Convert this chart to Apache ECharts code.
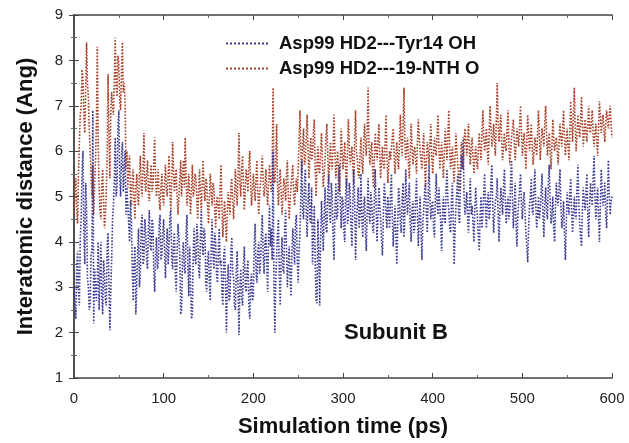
<!DOCTYPE html>
<html>
<head>
<meta charset="utf-8">
<script src="https://cdn.jsdelivr.net/npm/echarts@6/dist/echarts.min.js"></script>
<style>
  html, body { margin: 0; padding: 0; background: #fff; }
  #main { width: 629px; height: 443px; }
</style>
</head>
<body>
<div id="main"></div>
<script>
// sampling step of the trajectories (ps)
var timeStep = 1

var seriesNames = ['Asp99 HD2---Tyr14 OH', 'Asp99 HD2---19-NTH O']

// Asp99 HD2 --- Tyr14 OH (Ang), one value per ps, 10 per row
var tyrOH = [
  3.0, 2.6, 2.3, 3.4, 3.8, 2.9, 2.6, 4.1, 4.5, 5.6,
  6.0, 4.2, 3.5, 5.3, 4.8, 3.2, 3.0, 2.5, 2.6, 3.7,
  3.8, 6.9, 2.2, 3.4, 3.0, 2.7, 3.2, 4.0, 2.5, 3.3,
  4.0, 2.8, 2.4, 3.6, 3.3, 2.7, 2.6, 3.9, 4.2, 3.1,
  2.05, 2.9, 3.6, 4.5, 4.8, 5.4, 6.3, 5.0, 5.2, 6.5,
  6.9, 5.4, 5.0, 5.9, 6.2, 5.1, 5.6, 6.0, 4.6, 5.2,
  4.8, 4.4, 4.0, 4.9, 4.5, 3.4, 2.7, 3.6, 3.9, 2.4,
  2.4, 3.8, 4.3, 3.0, 3.3, 4.4, 4.6, 3.5, 3.6, 4.5,
  4.2, 3.6, 3.4, 4.3, 4.7, 3.9, 3.8, 4.5, 4.4, 3.3,
  2.9, 3.7, 4.1, 3.4, 3.5, 4.4, 4.6, 3.6, 3.7, 4.2,
  4.5, 3.8, 3.2, 3.9, 4.3, 3.5, 3.9, 4.6, 4.7, 3.6,
  3.4, 4.0, 4.2, 3.3, 2.9, 3.8, 4.4, 4.1, 3.7, 2.4,
  2.5, 3.7, 4.0, 3.4, 3.3, 4.2, 4.6, 3.5, 2.8, 3.9,
  3.9, 2.3, 2.4, 3.8, 4.3, 3.6, 3.5, 4.4, 4.1, 3.4,
  3.2, 4.1, 4.7, 3.9, 3.7, 4.3, 4.2, 3.1, 2.9, 3.6,
  3.8, 3.1, 2.7, 3.9, 4.5, 3.7, 3.4, 4.2, 4.0, 3.3,
  3.1, 3.8, 4.3, 3.5, 3.6, 2.9, 2.6, 3.7, 3.9, 3.0,
  2.0, 3.1, 3.5, 2.7, 2.8, 3.8, 4.1, 3.3, 3.2, 2.6,
  2.5, 3.4, 3.8, 2.9, 1.95, 3.0, 3.4, 2.8, 2.6, 3.5,
  3.9, 3.0, 2.9, 3.4, 3.6, 2.6, 2.3, 3.1, 3.3, 2.7,
  2.8, 3.9, 4.4, 3.4, 3.1, 3.8, 4.0, 3.3, 3.5, 4.2,
  4.6, 3.7, 3.3, 4.0, 4.2, 3.5, 2.9, 4.1, 4.8, 3.9,
  4.3, 3.6, 6.0, 3.1, 2.0, 3.2, 3.7, 4.2, 4.5, 3.3,
  2.6, 3.6, 4.1, 3.4, 3.3, 4.3, 4.7, 3.8, 3.0, 3.5,
  3.9, 3.2, 2.8, 3.7, 4.3, 3.9, 3.5, 4.4, 4.6, 3.6,
  3.1, 3.8, 4.2, 5.0, 5.8, 4.7, 4.5, 5.3, 5.6, 4.6,
  4.1, 4.9, 5.3, 4.5, 4.4, 5.2, 3.5, 4.1, 4.8, 3.6,
  2.7, 2.65, 4.5, 3.7, 2.6, 4.0, 4.9, 4.4, 3.8, 4.6,
  5.2, 4.3, 4.2, 5.1, 5.5, 4.6, 4.4, 5.3, 5.0, 4.1,
  3.6, 4.7, 5.3, 4.5, 4.6, 5.5, 5.7, 4.8, 4.3, 5.0,
  4.9, 4.2, 4.0, 5.1, 5.4, 4.4, 4.5, 5.3, 5.1, 4.3,
  3.9, 4.8, 5.6, 4.9, 3.6, 4.4, 4.8, 5.2, 4.3, 4.6,
  5.5, 4.5, 4.1, 4.8, 5.0, 4.2, 3.8, 4.7, 5.4, 4.6,
  4.4, 5.1, 4.9, 4.3, 4.2, 5.0, 5.6, 4.7, 4.0, 4.6,
  5.2, 4.8, 4.5, 4.0, 3.7, 4.6, 5.3, 5.0, 4.6, 4.3,
  5.0, 4.6, 4.3, 5.1, 5.5, 4.5, 3.9, 4.4, 4.8, 4.1,
  3.5, 4.4, 5.2, 4.9, 4.4, 4.2, 5.0, 5.3, 4.1, 4.6,
  5.6, 4.9, 4.6, 5.0, 5.3, 4.4, 4.0, 4.7, 4.9, 4.2,
  4.3, 5.0, 5.4, 4.6, 3.9, 4.5, 5.0, 4.3, 3.6, 4.4,
  4.7, 5.1, 5.3, 4.6, 4.2, 5.0, 5.7, 4.9, 4.5, 4.8,
  4.9, 4.3, 4.1, 5.0, 5.5, 4.8, 4.6, 5.2, 5.2, 4.4,
  3.8, 4.6, 5.0, 4.5, 4.4, 5.2, 5.6, 4.9, 4.7, 4.3,
  4.2, 4.9, 5.3, 4.4, 3.5, 4.3, 4.8, 5.1, 5.5, 4.6,
  4.4, 5.3, 5.9, 5.6, 6.3, 5.0, 4.6, 4.8, 5.1, 4.5,
  4.2, 4.9, 5.4, 4.6, 4.8, 4.4, 4.0, 4.7, 5.2, 4.8,
  4.5, 4.1, 3.8, 4.6, 5.0, 4.3, 4.6, 5.1, 5.5, 4.7,
  4.3, 4.9, 5.1, 4.5, 4.7, 5.3, 5.7, 4.8, 4.2, 4.6,
  4.9, 5.0, 5.4, 4.6, 4.0, 4.7, 5.2, 4.9, 4.6, 5.2,
  5.6, 4.9, 4.4, 4.8, 5.0, 4.5, 4.7, 5.4, 5.8, 4.9,
  4.3, 4.8, 5.3, 4.4, 3.9, 4.6, 4.9, 5.2, 5.5, 4.8,
  4.5, 4.9, 5.1, 4.6, 4.2, 3.9, 3.55, 4.3, 4.8, 5.0,
  5.4, 4.7, 4.6, 5.2, 5.6, 4.8, 4.3, 4.6, 5.0, 4.5,
  4.7, 5.1, 5.5, 4.6, 4.1, 4.8, 5.2, 4.7, 4.5, 5.3,
  5.7, 4.9, 4.4, 4.6, 5.0, 4.3, 4.0, 4.8, 5.3, 4.9,
  4.8, 5.2, 5.6, 4.8, 4.3, 4.5, 4.9, 4.2, 3.6, 4.4,
  5.1, 4.8, 4.6, 5.1, 5.4, 4.7, 4.2, 4.6, 5.0, 4.6,
  4.5, 5.2, 5.7, 4.9, 4.4, 4.1, 3.9, 4.7, 5.2, 4.9,
  4.7, 5.1, 5.5, 4.6, 4.1, 4.8, 5.3, 5.0, 4.8, 5.4,
  5.9, 5.0, 4.5, 4.9, 5.2, 4.5, 4.0, 4.8, 5.6, 5.1,
  4.8, 5.0, 5.3, 4.6, 4.3, 5.1, 5.8, 5.0, 4.6, 4.9,
  5.0
]

// Asp99 HD2 --- 19-NTH O (Ang), one value per ps, 10 per row
var nthO = [
  4.6, 5.2, 5.4, 4.7, 4.4, 5.5, 6.2, 6.8, 7.0, 7.8,
  7.6, 6.8, 6.4, 7.3, 8.4, 7.5, 7.2, 6.5, 6.0, 5.5,
  5.0, 5.7, 4.6, 5.3, 5.8, 6.6, 8.3, 6.2, 5.2, 4.7,
  4.5, 5.3, 5.6, 4.9, 4.3, 4.6, 5.1, 5.9, 7.7, 6.3,
  5.4, 6.8, 7.3, 7.0, 6.8, 7.6, 8.5, 7.4, 7.2, 8.1,
  7.9, 7.1, 6.9, 7.8, 8.4, 7.3, 7.5, 7.0, 5.6, 6.0,
  5.2, 5.7, 5.9, 5.0, 4.8, 5.4, 5.6, 4.9, 4.5, 5.2,
  5.5, 5.0, 4.8, 5.5, 5.9, 5.2, 5.0, 5.6, 6.4, 5.3,
  5.1, 5.5, 5.8, 5.0, 4.9, 5.4, 5.7, 5.1, 5.2, 5.8,
  6.3, 5.4, 5.0, 5.3, 5.6, 4.9, 4.7, 5.2, 5.5, 5.0,
  4.8, 5.3, 5.7, 5.2, 5.0, 5.5, 5.9, 5.1, 4.7, 5.3,
  6.2, 5.6, 5.1, 5.4, 5.6, 5.0, 4.6, 5.0, 5.4, 5.8,
  5.0, 5.5, 5.8, 5.2, 6.3, 5.4, 4.8, 5.1, 5.5, 5.0,
  4.6, 5.2, 5.7, 5.0, 5.1, 5.5, 5.4, 4.9, 4.5, 5.1,
  5.6, 5.0, 4.7, 5.3, 5.8, 5.2, 4.9, 5.4, 5.3, 4.8,
  4.4, 5.0, 5.5, 5.1, 4.8, 5.3, 5.2, 4.7, 4.3, 4.9,
  5.0, 4.7, 4.5, 5.2, 5.7, 4.8, 4.1, 4.6, 4.9, 4.4,
  4.0, 4.7, 5.1, 4.8, 4.6, 5.2, 5.4, 4.9, 4.5, 5.0,
  5.6, 5.1, 4.8, 5.5, 6.4, 5.3, 5.0, 5.6, 5.9, 5.2,
  4.7, 5.2, 5.6, 5.4, 5.1, 5.7, 6.0, 5.3, 4.8, 5.1,
  5.5, 5.2, 4.9, 5.4, 5.8, 5.1, 4.6, 5.0, 5.3, 5.6,
  5.9, 5.3, 5.0, 5.2, 5.6, 5.1, 4.8, 5.3, 5.7, 5.4,
  5.1, 5.6, 7.4, 5.5, 5.3, 5.8, 6.6, 5.2, 4.8, 5.3,
  5.6, 5.1, 4.6, 5.0, 5.4, 5.2, 4.9, 5.5, 5.8, 5.0,
  4.5, 4.9, 5.2, 5.5, 5.7, 5.0, 4.8, 5.2, 5.4, 5.1,
  5.6, 6.2, 6.9, 6.0, 5.5, 6.1, 6.5, 5.7, 5.8, 6.3,
  6.8, 6.0, 5.4, 5.9, 6.3, 5.8, 5.9, 6.4, 6.7, 5.6,
  5.0, 5.7, 6.1, 5.6, 5.5, 6.0, 6.4, 5.8, 5.2, 5.5,
  5.8, 6.3, 6.6, 5.9, 5.3, 5.8, 6.2, 5.7, 5.6, 6.1,
  6.8, 6.0, 5.4, 5.7, 6.0, 5.6, 5.1, 5.8, 6.5, 6.0,
  5.6, 5.9, 6.2, 5.5, 5.2, 6.0, 6.7, 6.1, 5.7, 5.9,
  6.1, 5.6, 5.3, 6.2, 6.9, 6.0, 5.8, 5.5, 5.4, 5.9,
  6.3, 5.8, 5.5, 6.1, 6.6, 6.2, 5.9, 6.5, 7.4, 6.1,
  5.7, 6.0, 6.2, 5.6, 5.2, 5.9, 6.4, 6.0, 5.8, 6.2,
  6.6, 5.9, 5.4, 5.8, 6.1, 5.7, 5.6, 6.2, 6.8, 5.9,
  5.3, 5.7, 6.0, 5.8, 5.8, 6.3, 6.5, 5.9, 5.5, 5.9,
  6.2, 5.8, 5.6, 6.3, 6.8, 6.1, 5.9, 6.6, 7.4, 6.2,
  5.8, 6.1, 6.3, 5.7, 5.4, 6.0, 6.6, 6.1, 5.7, 6.0,
  6.1, 5.8, 5.5, 6.2, 6.7, 6.3, 6.0, 5.8, 5.6, 6.1,
  6.4, 5.7, 5.2, 5.8, 6.2, 6.0, 5.7, 6.2, 6.6, 5.9,
  5.5, 5.9, 6.3, 6.0, 5.9, 6.4, 6.8, 6.1, 5.6, 5.9,
  6.2, 5.8, 5.4, 6.0, 6.5, 6.1, 5.8, 6.4, 6.9, 6.0,
  5.6, 5.9, 6.1, 5.6, 5.3, 5.9, 6.4, 6.0, 5.7, 5.5,
  5.1, 5.7, 6.2, 5.9, 5.6, 6.1, 6.5, 6.2, 5.9, 6.3,
  6.6, 6.0, 5.7, 6.1, 6.3, 5.9, 5.5, 5.8, 6.1, 5.8,
  5.6, 6.1, 6.4, 6.0, 5.8, 6.4, 6.9, 6.3, 6.0, 6.2,
  6.5, 6.0, 5.7, 6.4, 7.0, 6.5, 6.1, 6.3, 6.6, 6.2,
  5.9, 6.7, 7.5, 6.6, 6.2, 6.5, 6.8, 6.2, 5.8, 6.1,
  6.4, 6.1, 6.0, 6.5, 6.9, 6.2, 5.7, 6.0, 6.3, 6.5,
  6.7, 6.2, 5.8, 6.1, 6.5, 6.3, 6.1, 6.6, 7.0, 6.4,
  5.9, 6.2, 6.4, 6.0, 5.6, 6.2, 6.8, 6.4, 6.0, 6.3,
  6.6, 6.1, 5.7, 6.0, 6.3, 6.1, 5.9, 6.4, 6.9, 6.3,
  5.8, 6.2, 6.5, 6.3, 6.1, 6.6, 7.0, 6.4, 5.9, 6.2,
  6.4, 6.0, 5.6, 6.1, 6.7, 6.3, 6.0, 6.2, 6.3, 6.0,
  5.7, 6.2, 6.6, 6.3, 6.1, 6.5, 6.9, 6.3, 5.9, 6.2,
  6.5, 6.1, 5.8, 6.4, 7.1, 6.6, 6.2, 6.8, 7.4, 6.5,
  6.0, 6.4, 6.8, 6.5, 6.3, 6.7, 7.2, 6.6, 6.1, 6.4,
  6.7, 6.4, 6.2, 6.6, 7.0, 6.5, 6.4, 6.7, 6.9, 6.3,
  6.1, 6.4, 6.6, 6.2, 5.9, 6.5, 7.1, 6.8, 6.4, 6.6,
  6.8, 6.5, 6.2, 6.6, 6.9, 6.7, 6.5, 6.8, 7.0, 6.6,
  6.3
]

var xTicks = [0, 600, 100]   // min, max, interval
var yTicks = [1, 9, 1]

function pairs(values) {
  return values.map(function (v, i) { return [i * timeStep, v] })
}

var font = '"Liberation Sans", Arial, sans-serif'

var axisCommon = {
  axisLine: { show: true, lineStyle: { color: '#444', width: 1.5 } },
  axisTick: { show: true, inside: true, length: 5, lineStyle: { color: '#444', width: 1 } },
  minorTick: { show: true, splitNumber: 2, length: 3, lineStyle: { color: '#666', width: 1 } },
  splitLine: { show: false }
}

var myChart = echarts.init(document.getElementById('main'))

var option = {
  animation: false,
  backgroundColor: '#fff',
  grid: { left: 74, right: 17, top: 15, bottom: 59 },
  title: {
    text: 'Subunit B',
    left: 339,
    top: 317,
    textStyle: { fontFamily: font, fontSize: 22, fontWeight: 'bold', color: '#111' }
  },
  legend: {
    orient: 'vertical',
    left: 220,
    top: 29,
    itemWidth: 44,
    itemHeight: 10,
    itemGap: 6,
    data: seriesNames,
    itemStyle: { opacity: 0 },
    textStyle: { fontFamily: font, fontSize: 18.5, fontWeight: 'bold', color: '#111', padding: [0, 0, 0, 4] }
  },
  xAxis: [
    Object.assign({
      type: 'value', position: 'bottom',
      min: xTicks[0], max: xTicks[1], interval: xTicks[2],
      name: 'Simulation time (ps)', nameLocation: 'middle', nameGap: 38,
      nameTextStyle: { fontFamily: font, fontSize: 22, fontWeight: 'bold', color: '#111' },
      axisLabel: { fontFamily: font, fontSize: 15, color: '#222', margin: 13 }
    }, axisCommon),
    Object.assign({
      type: 'value', position: 'top',
      min: xTicks[0], max: xTicks[1], interval: xTicks[2],
      axisLabel: { show: false }
    }, axisCommon)
  ],
  yAxis: [
    Object.assign({
      type: 'value', position: 'left',
      min: yTicks[0], max: yTicks[1], interval: yTicks[2],
      name: 'Interatomic distance (Ang)', nameLocation: 'middle', nameGap: 37,
      nameTextStyle: { fontFamily: font, fontSize: 22, fontWeight: 'bold', color: '#111' },
      axisLabel: { fontFamily: font, fontSize: 15, color: '#222', margin: 11 }
    }, axisCommon),
    Object.assign({
      type: 'value', position: 'right',
      min: yTicks[0], max: yTicks[1], interval: yTicks[2],
      axisLabel: { show: false }
    }, axisCommon)
  ],
  series: [
    {
      name: seriesNames[0],
      type: 'line',
      data: pairs(tyrOH),
      symbol: 'none',
      z: 3,
      color: '#3a3a92',
      lineStyle: { type: 'dotted', width: 1.6, color: '#3a3a92' }
    },
    {
      name: seriesNames[1],
      type: 'line',
      data: pairs(nthO),
      symbol: 'none',
      z: 2,
      color: '#a83e26',
      lineStyle: { type: 'dotted', width: 1.6, color: '#a83e26' }
    }
  ]
}

option && myChart.setOption(option)
</script>
</body>
</html>
